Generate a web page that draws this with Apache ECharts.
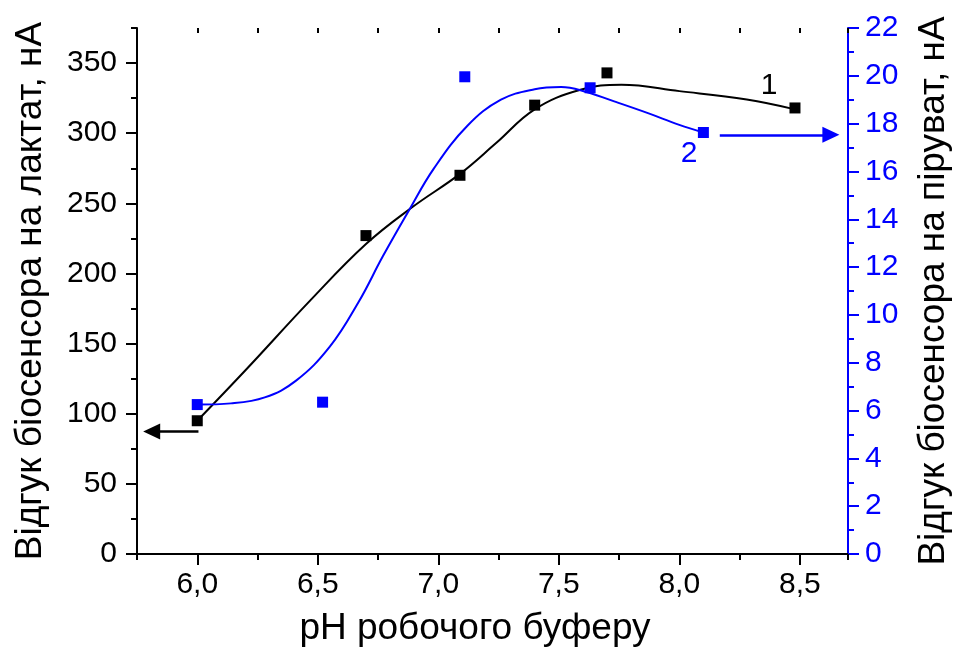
<!DOCTYPE html>
<html>
<head>
<meta charset="utf-8">
<script src="https://cdn.jsdelivr.net/npm/echarts@6/dist/echarts.min.js"></script>
<style>
  html, body { margin: 0; padding: 0; background: #fff; }
  #chart { width: 955px; height: 650px; }
</style>
</head>
<body>
<div id="chart"></div>
<script>
// measured points, lactate (left axis)
const lactatePH = [6.0, 6.7, 7.09, 7.4, 7.7, 8.48]
const lactateResp = [95, 227, 270, 320, 343, 318]
// fitted curve 1
const lactateCurvePH = [6.0, 6.2, 6.47, 6.7, 6.89, 7.09, 7.24, 7.4, 7.59, 7.76, 8.0, 8.28, 8.48]
const lactateCurve = [95, 131, 181, 221, 247, 271, 293, 317, 331, 334.5, 330, 324, 317]

// measured points, pyruvate (right axis)
const pyruvatePH = [6.0, 6.52, 7.11, 7.63, 8.1]
const pyruvateResp = [6.25, 6.35, 19.96, 19.5, 17.63]
// fitted curve 2
const pyruvateCurvePH = [6.0, 6.14, 6.28, 6.41, 6.55, 6.67, 6.77, 6.88, 6.98, 7.12, 7.26, 7.4, 7.51, 7.59, 7.73, 7.87, 8.0, 8.1]
const pyruvateCurve = [6.25, 6.3, 6.55, 7.25, 8.67, 10.55, 12.45, 14.4, 16.1, 17.9, 19.0, 19.44, 19.53, 19.4, 18.93, 18.44, 17.95, 17.63]

const xMajor = [6.0, 6.5, 7.0, 7.5, 8.0, 8.5]
const leftMajor = [0, 50, 100, 150, 200, 250, 300, 350]

const FONT = 'Liberation Sans'
const BLUE = '#0000ff'

const zip = (xs, ys) => xs.map((x, i) => [x, ys[i]])
const comma = v => v.toFixed(1).replace('.', ',')

const chart = echarts.init(document.getElementById('chart'))

const xBase = {
  type: 'value',
  min: 5.75,
  max: 8.7,
  splitLine: { show: false }
}

const option = {
  animation: false,
  backgroundColor: '#fff',
  grid: { left: 137, right: 107, top: 28, bottom: 96, outerBoundsMode: 'none' },
  xAxis: [
    {
      ...xBase,
      position: 'bottom',
      name: 'pH робочого буферу',
      nameLocation: 'middle',
      nameGap: 56,
      nameTextStyle: { fontFamily: FONT, fontSize: 37, color: '#000', padding: [0, 35, 0, 0] },
      axisLine: { lineStyle: { color: '#000', width: 2 } },
      axisTick: { customValues: xMajor, length: 11, lineStyle: { color: '#000', width: 2 } },
      axisLabel: { customValues: xMajor, formatter: comma, margin: 16, fontFamily: FONT, fontSize: 30, color: '#000' }
    },
    {
      ...xBase,
      position: 'bottom',
      interval: 0.25,
      axisLine: { show: false },
      axisTick: { length: 6, lineStyle: { color: '#000', width: 2 } },
      axisLabel: { show: false }
    },
    {
      ...xBase,
      position: 'top',
      axisLine: { lineStyle: { color: '#000', width: 2 } },
      axisTick: { customValues: xMajor, inside: true, length: 10, lineStyle: { color: '#000', width: 2 } },
      axisLabel: { show: false }
    },
    {
      ...xBase,
      position: 'top',
      interval: 0.25,
      axisLine: { show: false },
      axisTick: { inside: true, length: 5, lineStyle: { color: '#000', width: 2 } },
      axisLabel: { show: false }
    }
  ],
  yAxis: [
    {
      type: 'value',
      position: 'left',
      min: 0,
      max: 375,
      splitLine: { show: false },
      name: 'Відгук біосенсора на лактат, нА',
      nameLocation: 'middle',
      nameGap: 88,
      nameTextStyle: { fontFamily: FONT, fontSize: 37, color: '#000' },
      axisLine: { show: true, lineStyle: { color: '#000', width: 2 } },
      axisTick: { show: true, customValues: leftMajor, length: 11, lineStyle: { color: '#000', width: 2 } },
      axisLabel: { customValues: leftMajor, margin: 20, fontFamily: FONT, fontSize: 30, color: '#000' }
    },
    {
      type: 'value',
      position: 'right',
      min: 0,
      max: 22,
      interval: 2,
      splitLine: { show: false },
      name: 'Відгук біосенсора на піруват, нА',
      nameLocation: 'middle',
      nameGap: 67,
      nameTextStyle: { fontFamily: FONT, fontSize: 37, color: '#000' },
      axisLine: { show: true, lineStyle: { color: BLUE, width: 2 } },
      axisTick: { show: true, length: 11, lineStyle: { color: BLUE, width: 2 } },
      minorTick: { show: true, splitNumber: 2, length: 6, lineStyle: { color: BLUE, width: 2 } },
      axisLabel: { margin: 17, fontFamily: FONT, fontSize: 30, color: BLUE }
    },
    {
      type: 'value',
      position: 'left',
      min: 0,
      max: 375,
      interval: 25,
      splitLine: { show: false },
      axisLine: { show: false },
      axisTick: { show: true, length: 6, lineStyle: { color: '#000', width: 2 } },
      axisLabel: { show: false }
    }
  ],
  series: [
    {
      name: 'curve1',
      type: 'line',
      xAxisIndex: 0,
      yAxisIndex: 0,
      data: zip(lactateCurvePH, lactateCurve),
      smooth: 0.4,
      showSymbol: false,
      lineStyle: { color: '#000', width: 2 },
      z: 3,
      markLine: {
        silent: true,
        symbol: ['none', 'triangle'],
        symbolSize: [16, 17],
        label: { show: false },
        lineStyle: { color: '#000', width: 2.5, type: 'solid' },
        data: [[{ coord: [6.005, 87.4] }, { coord: [5.811, 87.4] }]]
      }
    },
    {
      name: 'curve2',
      type: 'line',
      xAxisIndex: 0,
      yAxisIndex: 1,
      data: zip(pyruvateCurvePH, pyruvateCurve),
      smooth: 0.4,
      showSymbol: false,
      lineStyle: { color: BLUE, width: 2 },
      z: 3,
      markLine: {
        silent: true,
        symbol: ['none', 'triangle'],
        symbolSize: [16, 17],
        label: { show: false },
        lineStyle: { color: BLUE, width: 2.5, type: 'solid' },
        data: [[{ coord: [8.168, 17.53] }, { coord: [8.629, 17.53] }]]
      }
    },
    {
      name: 'lactate',
      type: 'scatter',
      xAxisIndex: 0,
      yAxisIndex: 0,
      data: zip(lactatePH, lactateResp),
      symbol: 'rect',
      symbolSize: 11,
      itemStyle: { color: '#000', opacity: 1 },
      z: 5
    },
    {
      name: 'pyruvate',
      type: 'scatter',
      xAxisIndex: 0,
      yAxisIndex: 1,
      data: zip(pyruvatePH, pyruvateResp),
      symbol: 'rect',
      symbolSize: 11,
      itemStyle: { color: BLUE, opacity: 1 },
      z: 5
    }
  ],
  graphic: [
    {
      type: 'text',
      x: 769,
      y: 86,
      style: { text: '1', fontFamily: FONT, fontSize: 30, fill: '#000', align: 'center', verticalAlign: 'middle' }
    },
    {
      type: 'text',
      x: 689,
      y: 154,
      style: { text: '2', fontFamily: FONT, fontSize: 30, fill: BLUE, align: 'center', verticalAlign: 'middle' }
    }
  ]
}

chart.setOption(option)
</script>
</body>
</html>
